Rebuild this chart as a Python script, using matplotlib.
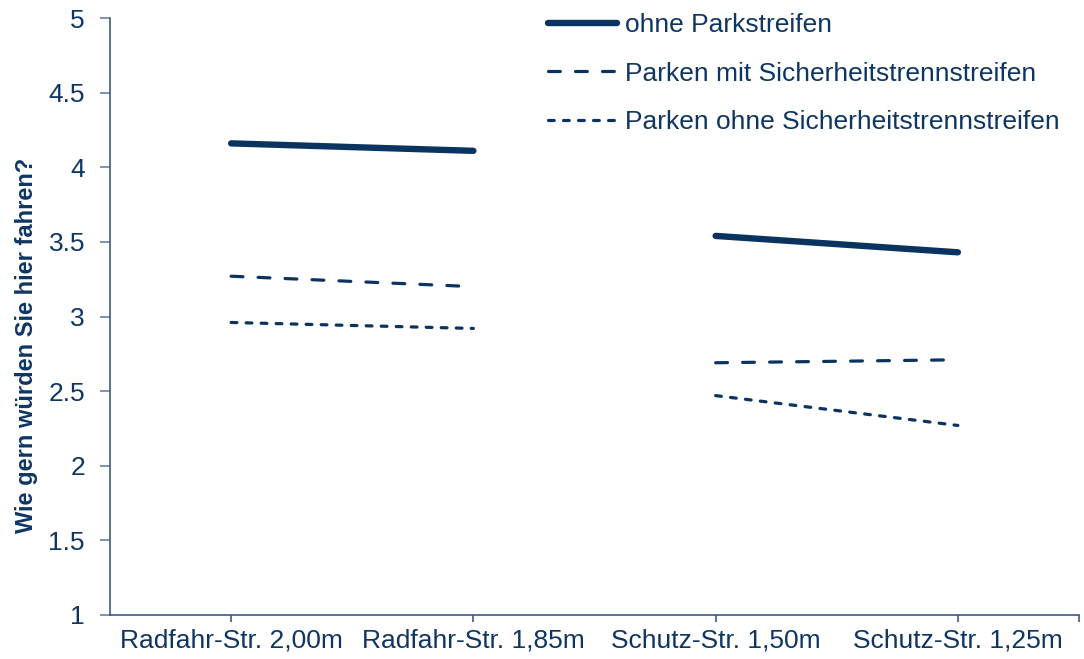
import matplotlib
matplotlib.use("Agg")
import matplotlib.pyplot as plt

plt.rcParams["font.family"] = ["Liberation Sans", "DejaVu Sans"]

categories = ["Radfahr-Str. 2,00m", "Radfahr-Str. 1,85m", "Schutz-Str. 1,50m", "Schutz-Str. 1,25m"]
ohne_parkstreifen = [4.16, 4.11, 3.54, 3.43]
parken_mit_trenn = [3.27, 3.20, 2.69, 2.71]
parken_ohne_trenn = [2.96, 2.92, 2.47, 2.27]
series_labels = ["ohne Parkstreifen", "Parken mit Sicherheitstrennstreifen",
                 "Parken ohne Sicherheitstrennstreifen"]
ytick_labels = ["1", "1.5", "2", "2.5", "3", "3.5", "4", "4.5", "5"]

navy = "#0b3360"
text_col = "#0f3563"
axis_col = "#3d5a85"

fig = plt.figure(figsize=(10.84, 6.59), dpi=100)
ax = fig.add_axes([110 / 1084, 44 / 659, 969 / 1084, 597 / 659])

styles = [
    dict(lw=4.6, ls="-", solid_capstyle="round"),
    dict(lw=2.3, ls=(0, (3.7, 4.75)), dash_capstyle="round"),
    dict(lw=2.3, ls=(0, (1.8, 2.9)), dash_capstyle="round"),
]
series = [ohne_parkstreifen, parken_mit_trenn, parken_ohne_trenn]
x = list(range(len(categories)))

for vals, st, lab in zip(series, styles, series_labels):
    # each street type is drawn as its own segment
    ax.plot(x[0:2], vals[0:2], color=navy, label=lab, **st)
    ax.plot(x[2:4], vals[2:4], color=navy, **st)

ax.set_xlim(-0.5, 3.5)
ax.set_ylim(1, 5)
ax.set_yticks([float(v) for v in ytick_labels])
ax.set_yticklabels(ytick_labels)
ax.set_xticks(x)
ax.set_xticklabels(categories)
ax.set_xticks([3.5], minor=True)

for s in ["top", "right"]:
    ax.spines[s].set_visible(False)
for s in ["left", "bottom"]:
    ax.spines[s].set_color(axis_col)
    ax.spines[s].set_linewidth(1.2)

ax.tick_params(axis="y", direction="out", length=7, width=1.2, color="#6b80a3",
               labelsize=19, labelcolor=text_col, pad=11)
ax.tick_params(axis="x", which="both", direction="out", length=5, width=1.2,
               color=axis_col, labelsize=19, labelcolor=text_col, pad=5)

ax.set_ylabel("Wie gern würden Sie hier fahren?", fontsize=17, fontweight="bold",
              color=text_col)
ax.yaxis.set_label_coords(-72 / 969, 270 / 597)

leg = ax.legend(loc="upper left", bbox_to_anchor=(548 / 1084, 1 - 13 / 659),
                bbox_transform=fig.transFigure, frameon=False, fontsize=19,
                handlelength=2.6, handletextpad=0.3, labelspacing=0.93,
                borderaxespad=0, borderpad=0)
for t in leg.get_texts():
    t.set_color(text_col)

fig.savefig("out.png", dpi=100, facecolor="white")
